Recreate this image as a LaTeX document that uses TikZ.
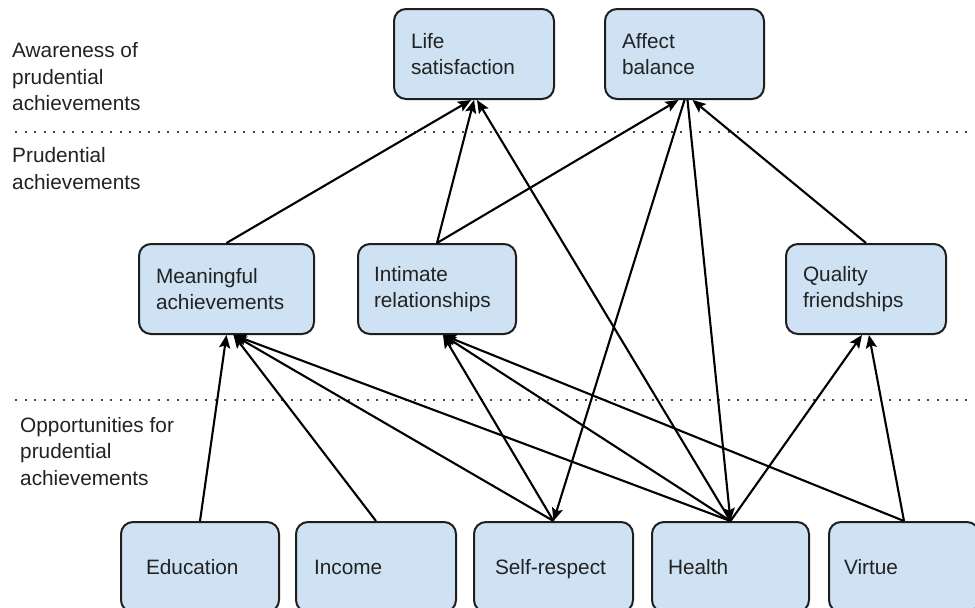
\documentclass[tikz,border=0pt]{standalone}
\usepackage{fontspec}
\setmainfont{Liberation Sans}
\usetikzlibrary{arrows.meta}
\definecolor{boxblue}{HTML}{CFE2F3}
\definecolor{ink}{HTML}{222222}
\begin{document}
\begin{tikzpicture}[x=1pt,y=-1pt,
  box/.style={rectangle, rounded corners=12pt, draw=black!88, line width=2pt, fill=boxblue,
    minimum height=90pt, align=left, anchor=north west, inner ysep=0pt, text=ink,
    font=\fontsize{20.8}{26}\selectfont},
  lbl/.style={anchor=north west, inner sep=0pt, align=left, text=ink,
    font=\fontsize{20.8}{26.5}\selectfont},
  conn/.style={line width=2.1pt, draw=black, -{Stealth[length=13pt,width=11pt,inset=2.5pt]}},
  sepline/.style={line width=2.4pt, dash pattern=on 2.4pt off 7.1pt, draw=black!72}]
\clip (0,0) rectangle (975,608);
\fill[white] (0,0) rectangle (975,608);

% separators
\draw[sepline] (15,132) -- (975,132);
\draw[sepline] (15,400) -- (975,400);

% level labels
\node[lbl] (l1) at (12,42.5) {Awareness of\\prudential\\achievements};
\node[lbl] (l2) at (12,147.5) {Prudential\\achievements};
\node[lbl] (l3) at (20,417) {Opportunities for\\prudential\\achievements};

% top level
\node[box, text width=126pt, inner xsep=17pt] (life) at (393,8) {Life\\satisfaction};
\node[box, text width=125pt, inner xsep=17pt] (affect) at (604,8) {Affect\\balance};

% middle level
\node[box, text width=141pt, inner xsep=17pt] (mean) at (138,243) {Meaningful\\achievements};
\node[box, text width=126pt, inner xsep=16pt] (inti) at (357,243) {Intimate\\relationships};
\node[box, text width=126pt, inner xsep=17pt] (qual) at (785,243) {Quality\\friendships};

% bottom level
\node[box, text width=108pt, inner xsep=25pt] (edu) at (120,521) {Education};
\node[box, text width=124pt, inner xsep=18pt] (inc) at (295,521) {Income};
\node[box, text width=117pt, inner xsep=21pt, text depth=0pt] (self) at (473,521) {Self-respect};
\node[box, text width=125pt, inner xsep=16pt] (health) at (651,521) {Health};
\node[box, text width=120pt, inner xsep=15pt] (virtue) at (828,521) {Virtue};

% connectors to top level
\draw[conn] (mean.north) -- ([xshift=-3pt]life.south);
\draw[conn] (inti.north) -- (life.south);
\draw[conn] (health.north) -- ([xshift=3pt]life.south);
\draw[conn] (inti.north) -- ([xshift=-6pt]affect.south);
\draw[conn] (qual.north) -- ([xshift=8pt]affect.south);
\draw[conn] (affect.south) -- (self.north);
\draw[conn] ([xshift=3pt]affect.south) -- (health.north);

% connectors to middle level
\draw[conn] (edu.north) -- (mean.south);
\draw[conn] (inc.north) -- ([xshift=7pt]mean.south);
\draw[conn] (self.north) -- ([xshift=7pt]mean.south);
\draw[conn] (health.north) -- ([xshift=7pt]mean.south);
\draw[conn] (self.north) -- ([xshift=6pt]inti.south);
\draw[conn] (health.north) -- ([xshift=6pt]inti.south);
\draw[conn] (virtue.north) -- ([xshift=6pt]inti.south);
\draw[conn] (health.north) -- ([xshift=-4pt]qual.south);
\draw[conn] (virtue.north) -- ([xshift=3pt]qual.south);
\end{tikzpicture}
\end{document}
